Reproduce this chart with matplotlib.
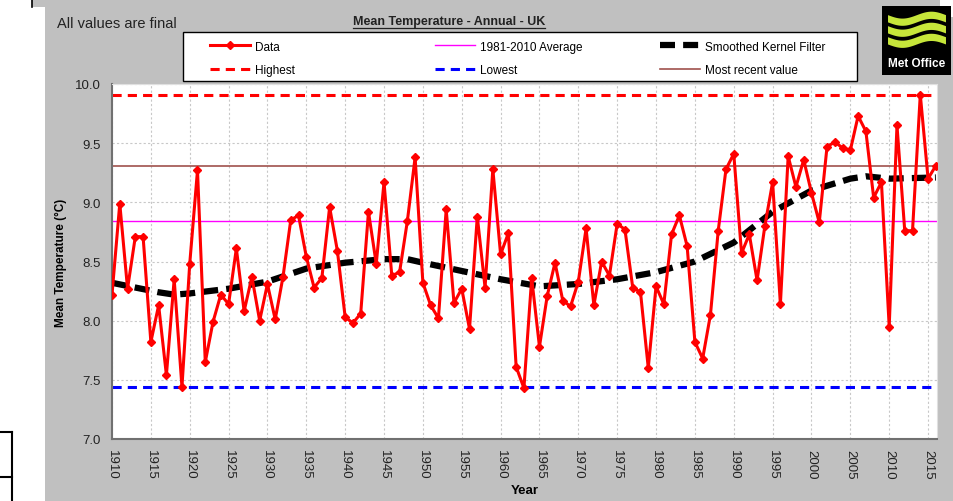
import numpy as np
import matplotlib
matplotlib.use("Agg")
import matplotlib.pyplot as plt
from matplotlib.patches import Rectangle
from matplotlib.lines import Line2D

plt.rcParams['font.family'] = ['Liberation Sans', 'DejaVu Sans']

# annual UK mean temperature
years = list(range(1910, 2017))
temps = [
    8.22, 8.99, 8.27, 8.71, 8.71, 7.82, 8.13, 7.54, 8.35, 7.44,  # 1910s
    8.48, 9.27, 7.65, 7.99, 8.22, 8.14, 8.61, 8.08, 8.37, 8.00,  # 1920s
    8.31, 8.01, 8.37, 8.85, 8.89, 8.54, 8.28, 8.36, 8.96, 8.59,  # 1930s
    8.03, 7.98, 8.06, 8.92, 8.48, 9.17, 8.38, 8.41, 8.84, 9.38,  # 1940s
    8.32, 8.13, 8.02, 8.94, 8.15, 8.27, 7.93, 8.88, 8.28, 9.28,  # 1950s
    8.56, 8.74, 7.61, 7.43, 8.36, 7.78, 8.21, 8.49, 8.17, 8.12,  # 1960s
    8.33, 8.78, 8.13, 8.50, 8.38, 8.82, 8.77, 8.28, 8.24, 7.60,  # 1970s
    8.29, 8.14, 8.73, 8.89, 8.63, 7.82, 7.68, 8.05, 8.76, 9.28,  # 1980s
    9.41, 8.57, 8.73, 8.34, 8.80, 9.17, 8.14, 9.39, 9.13, 9.36,  # 1990s
    9.08, 8.83, 9.47, 9.51, 9.46, 9.44, 9.73, 9.60, 9.04, 9.17,  # 2000s
    7.95, 9.65, 8.76, 8.76, 9.91, 9.20, 9.31,                    # 2010s
]

# smoothed kernel filter, read at a coarser step
smooth_years = [1910, 1913, 1916, 1918, 1920, 1925, 1930, 1935, 1940, 1945, 1948,
                1950, 1955, 1960, 1965, 1970, 1975, 1980, 1985, 1990, 1995,
                2000, 2005, 2007, 2010, 2016]
smooth_vals = [8.32, 8.28, 8.24, 8.22, 8.23, 8.27, 8.33, 8.44, 8.49, 8.52, 8.52,
               8.49, 8.42, 8.35, 8.29, 8.31, 8.35, 8.41, 8.50, 8.66, 8.92,
               9.10, 9.20, 9.22, 9.20, 9.21]

average_8110 = 8.84
highest = 9.91
lowest = 7.44
most_recent = 9.31

xticks = list(range(1910, 2016, 5))
yticks = [7.0, 7.5, 8.0, 8.5, 9.0, 9.5, 10.0]

W, H = 954, 502
fig = plt.figure(figsize=(W / 100, H / 100), dpi=100, facecolor='white')

grey = '#c0c0c0'


def fig_rect(x0, y0, x1, y1, zorder=-5, **kw):
    # rectangle given in pixel coords from top left
    fig.patches.append(Rectangle((x0 / W, 1 - y1 / H), (x1 - x0) / W, (y1 - y0) / H,
                                 transform=fig.transFigure, zorder=zorder, **kw))


def fig_line(xs, ys, **kw):
    fig.lines.append(Line2D([x / W for x in xs], [1 - y / H for y in ys],
                            transform=fig.transFigure, **kw))


# background panel
fig_rect(32, 0, 940, 8, facecolor=grey, edgecolor='none')
fig_rect(45, 7, 940, 19, facecolor=grey, edgecolor='none')
fig_rect(45, 18, 954, 502, facecolor=grey, edgecolor='none')
fig_line([32, 32], [0, 8], color='black', lw=1.2, zorder=-4)
# bit of a table cut off on the left
fig_line([12, 12], [433, 502], color='black', lw=1.5)
fig_line([0, 12], [433, 433], color='black', lw=1.5)
fig_line([0, 12], [478, 478], color='black', lw=1.5)

ax = fig.add_axes([112 / W, 1 - 440 / H, (937 - 112) / W, (440 - 85) / H])
ax.set_facecolor('white')

h_avg = ax.axhline(average_8110, color='#ff00ff', lw=1.0, zorder=2)
h_recent = ax.axhline(most_recent, color='#a0524d', lw=1.2, zorder=2)
h_high = ax.axhline(highest, color='#ff0000', lw=2.2, ls=(0, (3, 2)), zorder=2)
h_low = ax.axhline(lowest, color='#0000ff', lw=2.2, ls=(0, (3, 2)), zorder=2)
h_smooth, = ax.plot(smooth_years, smooth_vals, color='black', lw=4.5,
                    ls=(0, (2.4, 1.3)), zorder=3)
h_data, = ax.plot(years, temps, color='#ff0000', lw=2.2, marker='D', ms=4,
                  mec='#ff0000', mfc='#ff0000', zorder=4)

ax.set_xlim(1910, 2016.15)
ax.set_ylim(7.0, 10.0)
ax.set_xticks(xticks)
ax.set_yticks(yticks)
ax.set_yticklabels([f'{v:.1f}' for v in yticks])
ax.tick_params(axis='x', rotation=-90, length=0, pad=7, labelsize=9.5, labelcolor='#222222')
ax.tick_params(axis='y', length=0, pad=8, labelsize=9.5, labelcolor='#222222')
ax.grid(True, color='#c8c8c8', ls=(0, (2, 2)), lw=0.8)
ax.set_axisbelow(True)
for s in ['left', 'bottom']:
    ax.spines[s].set_color('#707070')
    ax.spines[s].set_linewidth(1.5)
for s in ['top', 'right']:
    ax.spines[s].set_color('#e0e0e0')
    ax.spines[s].set_linewidth(0.8)

ax.set_xlabel('Year', fontsize=9.5, fontweight='bold', labelpad=4)
ax.set_ylabel('Mean Temperature (°C)', fontsize=8.5, fontweight='bold', labelpad=6)

# legend: white box with three columns placed like the original
fig_rect(183, 33, 857, 82, zorder=5, facecolor='white', edgecolor='black', lw=1.0)
columns = [
    ([h_data, h_high], ['Data', 'Highest'], 210),
    ([h_avg, h_low], ['1981-2010 Average', 'Lowest'], 435),
    ([h_smooth, h_recent], ['Smoothed Kernel Filter', 'Most recent value'], 660),
]
for handles, labels, x0 in columns:
    lg = fig.legend(handles, labels, loc='center left',
                    bbox_to_anchor=(x0 / W, 1 - 59.5 / H), frameon=False,
                    fontsize=8.5, handlelength=3.4, handletextpad=0.4,
                    labelspacing=1.0, borderpad=0, borderaxespad=0)
    lg.set_zorder(6)

fig.text(57 / W, 1 - 24 / H, 'All values are final', fontsize=10.5,
         va='center', ha='left', color='#222222')
title = fig.text(449 / W, 1 - 21.5 / H, 'Mean Temperature - Annual - UK', fontsize=9,
                 fontweight='bold', va='center', ha='center', color='#222222')

# underline the title
fig.canvas.draw()
bb = title.get_window_extent()
fig_line([bb.x0, bb.x1], [H - bb.y0 + 1, H - bb.y0 + 1], color='#222222', lw=0.9)

# Met Office logo
logo = fig.add_axes([882 / W, 1 - 76 / H, 69 / W, 69 / H])
logo.set_facecolor('black')
logo.set_xlim(0, 1)
logo.set_ylim(0, 1)
logo.set_xticks([])
logo.set_yticks([])
for s in logo.spines.values():
    s.set_visible(False)
t = np.linspace(0.08, 0.92, 80)
for base in [0.83, 0.67, 0.51]:
    y = base - 0.05 * np.sin((t - 0.08) * 2 * np.pi / 0.84)
    logo.fill_between(t, y - 0.06, y + 0.045, color='#c6e63a', lw=0)
logo.text(0.5, 0.18, 'Met Office', color='white', fontsize=8.5, fontweight='bold',
          ha='center', va='center')

fig.savefig('out.png', dpi=100, facecolor='white')
